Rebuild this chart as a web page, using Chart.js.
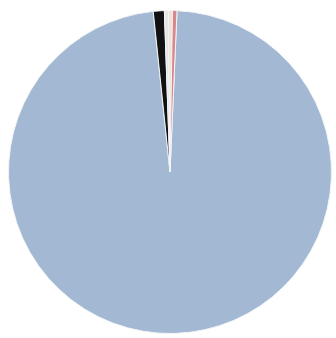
<!DOCTYPE html>
<html>
<head>
<meta charset="utf-8">
<script src="https://cdn.jsdelivr.net/npm/chart.js@4/dist/chart.umd.min.js"></script>
<style>
  html, body { margin: 0; padding: 0; background: #fff; }
  #wrap { width: 336px; height: 338px; }
</style>
</head>
<body>
<div id="wrap"><canvas id="grafico"></canvas></div>
<script>
// dados (fatias em % aproximado)
const categorias = ['A', 'B', 'C', 'D', 'E'];
const valores = [97.65, 1.1, 0.4, 0.4, 0.45];
const cores = ['#a3b8d2', '#111111', '#e6e6ea', '#efe4cf', '#d9868c'];

new Chart(document.getElementById('grafico').getContext('2d'), {
  type: 'pie',
  data: {
    labels: categorias,
    datasets: [{
      data: valores,
      backgroundColor: cores,
      borderColor: '#f2f4f7',
      borderWidth: 1,
    }],
  },
  options: {
    responsive: true,
    maintainAspectRatio: false,
    animation: false,
    rotation: 2.5,
    layout: { padding: { left: 8, right: 4, top: 10, bottom: 4 } },
    plugins: {
      legend: { display: false },
      tooltip: { enabled: false },
    },
  },
});
</script>
</body>
</html>
